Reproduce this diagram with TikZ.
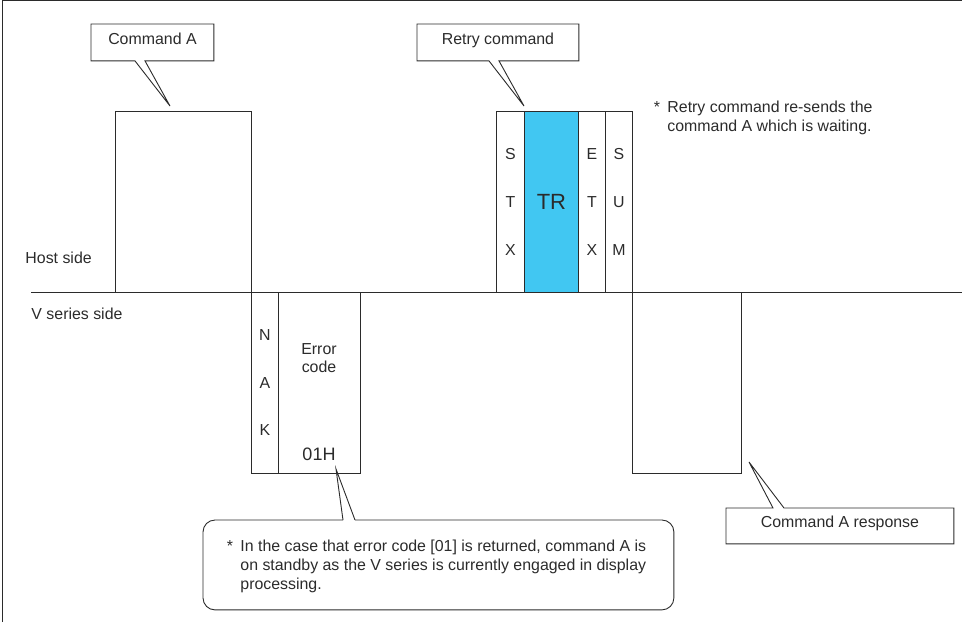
\documentclass[tikz,border=0pt]{standalone}
\usepackage{fontspec}
\setmainfont{Liberation Sans}
\usetikzlibrary{positioning}
\definecolor{ink}{HTML}{2B2B2B}
\definecolor{trblue}{HTML}{41C7F2}

\begin{document}
\begin{tikzpicture}[x=1pt,y=-1pt,line width=0.9pt,draw=ink,
  lbl/.style={font=\fontsize{15.9}{19}\selectfont,inner sep=0pt,text=ink},
  frm/.style={draw=ink,inner sep=0pt,minimum height=181pt,anchor=north west,
    align=center,text=ink,font=\fontsize{15.9}{48}\selectfont},
  callbox/.style={inner sep=0pt,anchor=north west,text=ink,
    font=\fontsize{15.9}{19}\selectfont,text height=11.3pt,text depth=8pt}]
\useasboundingbox (0,0) rectangle (962,622);
% page edge and the line between both sides
\draw[ink] (2.7,622) -- (2.7,0.7) -- (962,0.7);
\draw[ink] (31,292) -- (962,292);
\node[lbl,anchor=base west] (host) at (25,263) {Host side};
\node[lbl,anchor=base west] (vside) at (31,319) {V series side};
% host side: command A, then the retry frame
\node[frm,minimum width=136pt] (cmdA) at (115,111) {};
\node[frm,minimum width=28pt] (stx) at (496,111) {S\\T\\X};
\node[frm,minimum width=54pt,fill=trblue,font=\fontsize{22}{26}\selectfont] (tr) at (524,111) {TR};
\node[frm,minimum width=27pt] (etx) at (578,111) {E\\T\\X};
\node[frm,minimum width=27pt] (sum) at (605,111) {S\\U\\M};
% V series side: NAK with error code, then the response
\node[frm,minimum width=27pt,font=\fontsize{15.9}{47.5}\selectfont] (nak) at (251,292) {N\\A\\K};
\node[frm,minimum width=82pt] (err) at (278,292) {};
\node[lbl,align=center,font=\fontsize{15.9}{18}\selectfont] (errlbl) at (319,358.5) {Error\\code};
\node[lbl,font=\fontsize{18}{21}\selectfont] (errval) at (319,454.5) {01H};
\node[frm,minimum width=109pt] (resp) at (632,292) {};
% callouts
\node[callbox,minimum width=122pt,minimum height=36pt] (cmdAcall) at (91,24) {Command A};
\coordinate (cmdAtip) at (170,106);
\draw ([xshift=44pt]cmdAcall.south west) -- (cmdAtip) -- ([xshift=54pt]cmdAcall.south west)
  -- (cmdAcall.south east) -- (cmdAcall.north east) -- (cmdAcall.north west)
  -- (cmdAcall.south west) -- cycle;
\node[callbox,minimum width=161pt,minimum height=36pt] (retrycall) at (417,24) {Retry command};
\coordinate (retrytip) at (524,106);
\draw ([xshift=72pt]retrycall.south west) -- (retrytip) -- ([xshift=82pt]retrycall.south west)
  -- (retrycall.south east) -- (retrycall.north east) -- (retrycall.north west)
  -- (retrycall.south west) -- cycle;
\node[callbox,minimum width=227pt,minimum height=35pt] (respcall) at (726,508) {Command A response};
\coordinate (resptip) at (749,462);
\draw ([xshift=47pt]respcall.north west) -- (resptip) -- ([xshift=58pt]respcall.north west)
  -- (respcall.north east) -- (respcall.south east) -- (respcall.south west)
  -- (respcall.north west) -- cycle;
\node[inner sep=0pt,anchor=north west,minimum width=470pt,minimum height=89pt] (errnote) at (203,520) {};
\coordinate (errtip) at (336,469);
\draw[rounded corners=12pt] ([xshift=152pt]errnote.north west) -- (errnote.north east)
  -- (errnote.south east) -- (errnote.south west) -- (errnote.north west)
  -- ([xshift=140pt]errnote.north west);
\draw ([xshift=140pt]errnote.north west) -- (errtip) -- ([xshift=152pt]errnote.north west);
% notes
\node[lbl,anchor=base west] (errstar) at (226.5,551) {*};
\node[lbl,anchor=base west,align=left] (errtxt) at (240,589) {In the case that error code [01] is returned, command A is\\on standby as the V series is currently engaged in display\\processing.};
\node[lbl,anchor=base west] (retrystar) at (653.5,112) {*};
\node[lbl,anchor=base west,align=left] (retrytxt) at (667,131) {Retry command re-sends the\\command A which is waiting.};
\end{tikzpicture}
\end{document}
